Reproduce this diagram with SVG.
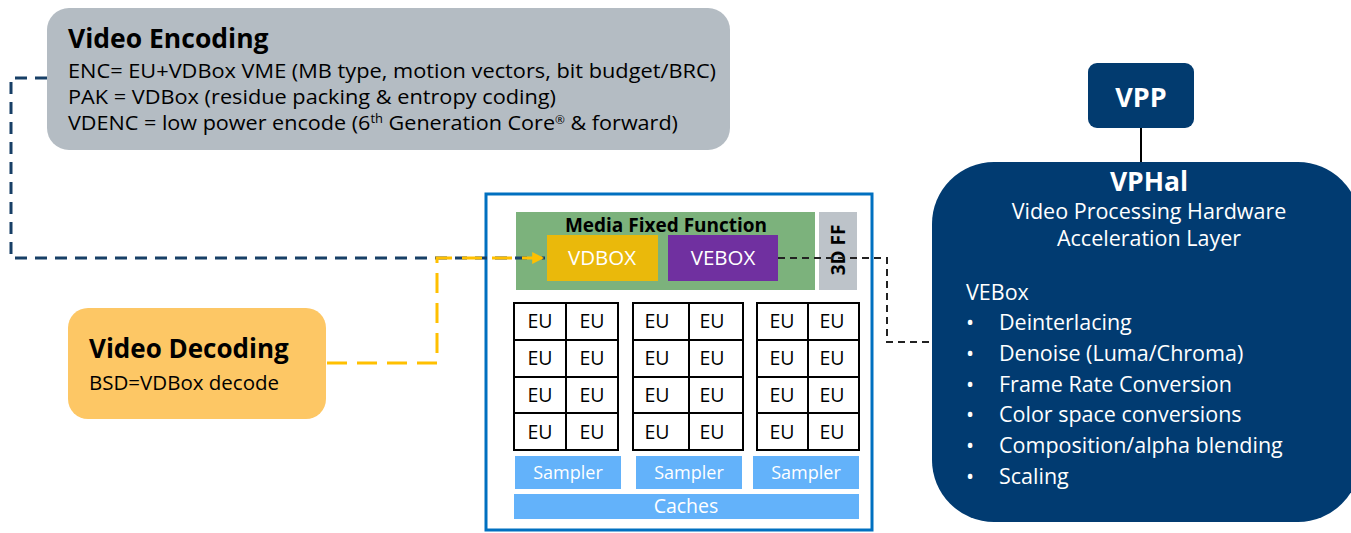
<svg xmlns="http://www.w3.org/2000/svg" width="1351" height="533" viewBox="0 0 1351 533">
<defs>
<style>
text{font-family:"Open Sans","Noto Sans","Liberation Sans",sans-serif;}
.t{font-size:20px;fill:#000;}
.h{font-size:26.5px;font-weight:bold;fill:#000;}
.w{fill:#fff;}
.eu{fill:#fff;stroke:#000;stroke-width:2;}
.eut{font-size:19.5px;fill:#000;text-anchor:middle;}
.blue{fill:#63b2fa;}
.bt{font-size:18px;fill:#fff;text-anchor:middle;}
.li{font-size:21.5px;fill:#fff;}
</style>
<marker id="ay" viewBox="0 0 10 10" refX="9" refY="5" markerWidth="4" markerHeight="4" orient="auto" markerUnits="strokeWidth">
<path d="M0,0 L10,5 L0,10 z" fill="#ffc000"/>
</marker>
</defs>
<rect width="1351" height="533" fill="#fff"/>

<g id="video-encoding">
<rect x="47" y="8" width="683" height="142" rx="22" fill="#b4bcc3"/>
<text class="h" x="68" y="48">Video Encoding</text>
<text class="t" x="68" y="78" textLength="648" lengthAdjust="spacingAndGlyphs">ENC= EU+VDBox VME (MB type, motion vectors, bit budget/BRC)</text>
<text class="t" x="68" y="104" textLength="488" lengthAdjust="spacingAndGlyphs">PAK = VDBox (residue packing &amp; entropy coding)</text>
<text class="t" x="68" y="130" textLength="610" lengthAdjust="spacingAndGlyphs">VDENC = low power encode (6<tspan font-size="12" dy="-7">th</tspan><tspan dy="7"> Generation Core</tspan><tspan font-size="11" dy="-6">®</tspan><tspan dy="6"> &amp; forward)</tspan></text>
</g>

<g id="video-decoding">
<rect x="68" y="308" width="258" height="111" rx="20" fill="#fdc765"/>
<text x="89" y="358" font-size="26" font-weight="bold" fill="#000">Video Decoding</text>
<text x="89" y="390" font-size="20.5" fill="#000">BSD=VDBox decode</text>
</g>

<g id="gpu">
<rect x="486" y="194" width="386" height="336" fill="none" stroke="#0070c0" stroke-width="3"/>
</g>

<g id="media-fixed-function">
<rect x="516" y="212" width="299" height="78" fill="#7cb27c"/>
<text x="666" y="232" font-size="19" font-weight="bold" text-anchor="middle" fill="#000">Media Fixed Function</text>
</g>

<g id="vdbox">
<rect x="547" y="235" width="111" height="46" fill="#eab90b"/>
<text class="w" x="602" y="265" font-size="20.5" text-anchor="middle">VDBOX</text>
</g>

<g id="vebox">
<rect x="668" y="235" width="110" height="46" fill="#7030a0"/>
<text class="w" x="723" y="265" font-size="20.5" text-anchor="middle">VEBOX</text>
</g>

<g id="3d-ff">
<rect x="819" y="212" width="38" height="78" fill="#bdc3c9"/>
<text x="0" y="0" font-size="19" font-weight="bold" text-anchor="middle" fill="#000" transform="translate(845,250) rotate(-90)">3D FF</text>
</g>

<g id="eu-grid-1">
<rect class="eu" x="514" y="303" width="52" height="37"/><rect class="eu" x="566" y="303" width="52" height="37"/>
<rect class="eu" x="514" y="340" width="52" height="37"/><rect class="eu" x="566" y="340" width="52" height="37"/>
<rect class="eu" x="514" y="377" width="52" height="36"/><rect class="eu" x="566" y="377" width="52" height="36"/>
<rect class="eu" x="514" y="413" width="52" height="37"/><rect class="eu" x="566" y="413" width="52" height="37"/>
<text class="eut" x="540" y="328">EU</text><text class="eut" x="592" y="328">EU</text>
<text class="eut" x="540" y="365">EU</text><text class="eut" x="592" y="365">EU</text>
<text class="eut" x="540" y="402">EU</text><text class="eut" x="592" y="402">EU</text>
<text class="eut" x="540" y="439">EU</text><text class="eut" x="592" y="439">EU</text>
</g>

<g id="eu-grid-2">
<rect class="eu" x="633" y="303" width="56" height="37"/><rect class="eu" x="689" y="303" width="54" height="37"/>
<rect class="eu" x="633" y="340" width="56" height="37"/><rect class="eu" x="689" y="340" width="54" height="37"/>
<rect class="eu" x="633" y="377" width="56" height="36"/><rect class="eu" x="689" y="377" width="54" height="36"/>
<rect class="eu" x="633" y="413" width="56" height="37"/><rect class="eu" x="689" y="413" width="54" height="37"/>
<text class="eut" x="657" y="328">EU</text><text class="eut" x="712" y="328">EU</text>
<text class="eut" x="657" y="365">EU</text><text class="eut" x="712" y="365">EU</text>
<text class="eut" x="657" y="402">EU</text><text class="eut" x="712" y="402">EU</text>
<text class="eut" x="657" y="439">EU</text><text class="eut" x="712" y="439">EU</text>
</g>

<g id="eu-grid-3">
<rect class="eu" x="757" y="303" width="51" height="37"/><rect class="eu" x="808" y="303" width="51" height="37"/>
<rect class="eu" x="757" y="340" width="51" height="37"/><rect class="eu" x="808" y="340" width="51" height="37"/>
<rect class="eu" x="757" y="377" width="51" height="36"/><rect class="eu" x="808" y="377" width="51" height="36"/>
<rect class="eu" x="757" y="413" width="51" height="37"/><rect class="eu" x="808" y="413" width="51" height="37"/>
<text class="eut" x="782" y="328">EU</text><text class="eut" x="832" y="328">EU</text>
<text class="eut" x="782" y="365">EU</text><text class="eut" x="832" y="365">EU</text>
<text class="eut" x="782" y="402">EU</text><text class="eut" x="832" y="402">EU</text>
<text class="eut" x="782" y="439">EU</text><text class="eut" x="832" y="439">EU</text>
</g>

<g id="sampler-1"><rect class="blue" x="515" y="456" width="106" height="33"/><text class="bt" x="568" y="479">Sampler</text></g>
<g id="sampler-2"><rect class="blue" x="636" y="456" width="106" height="33"/><text class="bt" x="689" y="479">Sampler</text></g>
<g id="sampler-3"><rect class="blue" x="753" y="456" width="106" height="33"/><text class="bt" x="806" y="479">Sampler</text></g>
<g id="caches"><rect class="blue" x="514" y="494" width="345" height="25"/><text x="686" y="513" font-size="19.5" fill="#fff" text-anchor="middle">Caches</text></g>

<g id="vpp">
<rect x="1088" y="63" width="106" height="65" rx="9" fill="#023b6f"/>
<text x="1141" y="107" font-size="27" font-weight="bold" text-anchor="middle" fill="#fff">VPP</text>
</g>

<g id="vphal">
<rect x="932" y="162" width="428" height="360" rx="62" fill="#013b71"/>
<text x="1149" y="191" font-size="26.5" font-weight="bold" text-anchor="middle" fill="#fff">VPHal</text>
<text class="li" x="1149" y="219" text-anchor="middle">Video Processing Hardware</text>
<text class="li" x="1149" y="246" text-anchor="middle">Acceleration Layer</text>
<text class="li" x="966" y="300">VEBox</text>
<text class="li" x="966" y="330">•</text><text class="li" x="999" y="330">Deinterlacing</text>
<text class="li" x="966" y="361">•</text><text class="li" x="999" y="361">Denoise (Luma/Chroma)</text>
<text class="li" x="966" y="392">•</text><text class="li" x="999" y="392">Frame Rate Conversion</text>
<text class="li" x="966" y="422">•</text><text class="li" x="999" y="422">Color space conversions</text>
<text class="li" x="966" y="453">•</text><text class="li" x="999" y="453">Composition/alpha blending</text>
<text class="li" x="966" y="484">•</text><text class="li" x="999" y="484">Scaling</text>
</g>

<g id="connectors" fill="none">
<path d="M47,78 H11 V258 H545" stroke="#173f66" stroke-width="3" stroke-dasharray="12,8"/>
<path d="M327,363 H437 V258 H543" stroke="#ffc000" stroke-width="3" stroke-dasharray="20,10" marker-end="url(#ay)"/>
<path d="M778,258 H887 V342 H933" stroke="#222" stroke-width="2" stroke-dasharray="7,5"/>
<path d="M1141,128 V162" stroke="#000" stroke-width="2"/>
</g>
</svg>
